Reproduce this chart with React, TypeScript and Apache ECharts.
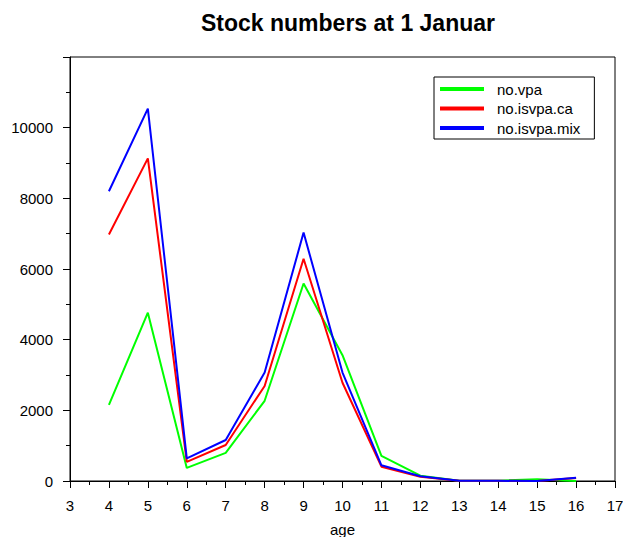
import React, { useEffect, useRef } from "react";
import * as echarts from "echarts";

const ages = [4, 5, 6, 7, 8, 9, 10, 11, 12, 13, 14, 15, 16];
const noVpa = [2155, 4765, 370, 795, 2270, 5590, 3560, 710, 150, 5, 10, 50, 0];
const noIsvpaCa = [6975, 9130, 540, 1020, 2690, 6290, 2780, 405, 120, 5, 5, 0, 85];
const noIsvpaMix = [8200, 10540, 640, 1160, 3070, 7030, 3070, 445, 135, 5, 5, 0, 95];
const seriesNames = ["no.vpa", "no.isvpa.ca", "no.isvpa.mix"];
const seriesColors = ["#00ff00", "#ff0000", "#0000ff"];
const seriesValues = [noVpa, noIsvpaCa, noIsvpaMix];

const FONT = "Liberation Sans, Arial, sans-serif";

export default function App() {
  const ref = useRef<HTMLDivElement>(null);
  useEffect(() => {
    if (!ref.current) return;
    const chart = echarts.init(ref.current, undefined, { renderer: "svg" });
    chart.setOption({
      animation: false,
      backgroundColor: "#ffffff",
      textStyle: { fontFamily: FONT },
      title: {
        text: "Stock numbers at 1 Januar",
        left: 343,
        textAlign: "center",
        top: 6,
        textStyle: { fontFamily: FONT, fontSize: 23, fontWeight: "bold", color: "#000" },
      },
      legend: {
        orient: "vertical",
        left: 434,
        top: 77,
        borderColor: "#000",
        borderWidth: 1,
        padding: [4, 14, 3, 6],
        itemGap: 3.5,
        itemWidth: 44,
        itemHeight: 4,
        icon: "rect",
        textStyle: { fontFamily: FONT, fontSize: 15, color: "#000", lineHeight: 16, padding: [0, 0, 0, 8] },
        data: seriesNames,
      },
      grid: {
        left: 70,
        right: 8,
        top: 57,
        bottom: 56,
        show: true,
        borderColor: "#000",
        borderWidth: 1,
        containLabel: false,
        outerBoundsMode: "none",
      },
      xAxis: {
        type: "value",
        min: 3,
        max: 17,
        interval: 1,
        name: "age",
        nameLocation: "middle",
        nameGap: 41,
        nameTextStyle: { fontFamily: FONT, fontSize: 15, color: "#000" },
        axisLine: { show: true, onZero: false, lineStyle: { color: "#000", width: 1 } },
        axisTick: { show: true, inside: false, length: 7, lineStyle: { color: "#000" } },
        minorTick: { show: true, splitNumber: 2, length: 4, lineStyle: { color: "#000" } },
        splitLine: { show: false },
        axisLabel: { fontFamily: FONT, fontSize: 15, color: "#000", margin: 17 },
      },
      yAxis: {
        type: "value",
        min: 0,
        max: 12000,
        interval: 2000,
        axisLine: { show: true, lineStyle: { color: "#000", width: 1 } },
        axisTick: { show: true, inside: false, length: 7, lineStyle: { color: "#000" } },
        minorTick: { show: true, splitNumber: 2, length: 4, lineStyle: { color: "#000" } },
        splitLine: { show: false },
        axisLabel: {
          fontFamily: FONT,
          fontSize: 15,
          color: "#000",
          margin: 17,
          formatter: (v: number) => (v >= 12000 ? "" : String(v)),
        },
      },
      series: seriesNames.map((name, i) => ({
        name,
        type: "line",
        symbol: "none",
        color: seriesColors[i],
        lineStyle: { width: 2, color: seriesColors[i] },
        data: ages.map((a, j) => [a, seriesValues[i][j]]),
      })),
    });
    return () => chart.dispose();
  }, []);
  return (
    <div
      ref={ref}
      style={{ position: "fixed", left: 0, top: 0, width: 623, height: 537 }}
    />
  );
}
